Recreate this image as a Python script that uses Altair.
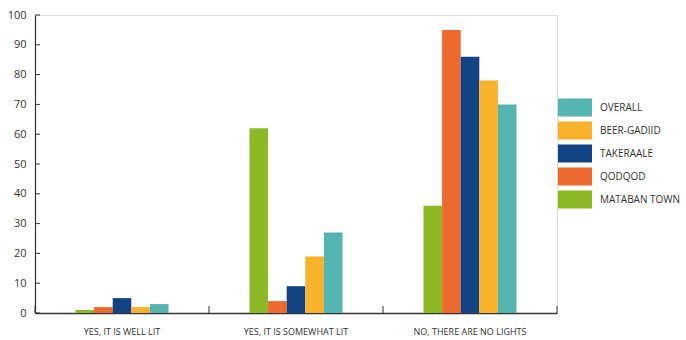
import altair as alt
import pandas as pd

categories = ["YES, IT IS WELL LIT", "YES, IT IS SOMEWHAT LIT", "NO, THERE ARE NO LIGHTS"]
series = ["MATABAN TOWN", "QODQOD", "TAKERAALE", "BEER-GADIID", "OVERALL"]
colors = ["#8DB927", "#EC6A2E", "#134383", "#F9B22C", "#56B4B0"]

mataban_town = [1, 62, 36]
qodqod = [2, 4, 95]
takeraale = [5, 9, 86]
beer_gadiid = [2, 19, 78]
overall = [3, 27, 70]

y_ticks = [0, 10, 20, 30, 40, 50, 60, 70, 80, 90, 100]

values = [mataban_town, qodqod, takeraale, beer_gadiid, overall]
rows = []
for s, vals in zip(series, values):
    for c, v in zip(categories, vals):
        rows.append({"category": c, "series": s, "value": v})
df = pd.DataFrame(rows)

FONT = "Open Sans"
W, H = 522, 298

# empty slots either side of the group of bars inside each category band
offset_domain = ["_l1", "_l2"] + series + ["_r1", "_r2"]

xscale = alt.Scale(domain=categories, paddingInner=0, paddingOuter=0)
yscale = alt.Scale(domain=[0, 100], nice=False)

x_axis = alt.Axis(title=None, labelAngle=0, labelFont=FONT, labelFontSize=9,
                  labelColor="#333333", labelPadding=14, ticks=False,
                  domainColor="#333333", domainWidth=1.5)
y_axis = alt.Axis(title=None, values=y_ticks, ticks=False, grid=False,
                  labelOverlap=False, labelFont=FONT, labelFontSize=11,
                  labelColor="#333333", labelPadding=9,
                  domainColor="#333333", domainWidth=1.2)

bars = alt.Chart(df).mark_bar().encode(
    x=alt.X("category:N", scale=xscale, sort=categories, axis=x_axis),
    xOffset=alt.XOffset("series:N",
                        scale=alt.Scale(domain=offset_domain, paddingInner=0, paddingOuter=0.175)),
    y=alt.Y("value:Q", scale=yscale, axis=y_axis),
    color=alt.Color("series:N", scale=alt.Scale(domain=series, range=colors),
                    legend=alt.Legend(title=None, orient="none", legendX=531.5, legendY=84,
                                      values=series[::-1], padding=0,
                                      symbolType="M-2,-1.06L2,-1.06L2,1.06L-2,1.06Z",
                                      symbolSize=289, symbolStrokeWidth=0, symbolOpacity=1,
                                      rowPadding=4, labelOffset=16.5,
                                      labelFont=FONT, labelFontSize=10, labelColor="#333333")),
)

tick_df = pd.DataFrame({"value": y_ticks})
ytick_rules = alt.Chart(tick_df).mark_rule(color="#333333", strokeWidth=1).encode(
    y=alt.Y("value:Q", scale=yscale, axis=y_axis),
    x=alt.value(0), x2=alt.value(5),
)

cat_df = pd.DataFrame({"category": categories})
xtick_rules = alt.Chart(cat_df).mark_rule(color="#333333", strokeWidth=1).encode(
    x=alt.X("category:N", scale=xscale, sort=categories, bandPosition=0, axis=x_axis),
    y=alt.value(H - 7), y2=alt.value(H),
)
end_df = pd.DataFrame({"category": categories[-1:]})
xtick_end = alt.Chart(end_df).mark_rule(color="#333333", strokeWidth=1).encode(
    x=alt.X("category:N", scale=xscale, sort=categories, bandPosition=1, axis=x_axis),
    y=alt.value(H - 7), y2=alt.value(H),
)

chart = alt.layer(bars, ytick_rules, xtick_rules, xtick_end).properties(
    width=W, height=H,
    autosize=alt.AutoSizeParams(type="none"),
    padding={"left": 35, "top": 15, "right": 129, "bottom": 27},
).configure_view(stroke=None).configure(background="white")

chart.save("out.html", embed_options={"renderer": "svg", "actions": False})
